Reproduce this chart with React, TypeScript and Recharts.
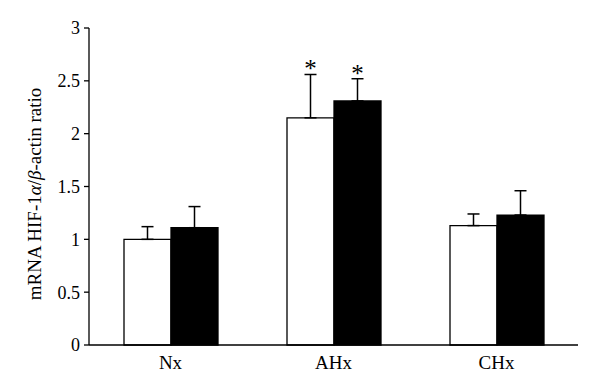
import React from "react";
import { BarChart, Bar, XAxis, YAxis, ErrorBar, LabelList } from "recharts";

const categories = ["Nx", "AHx", "CHx"];
const whiteValues = [1.0, 2.15, 1.13];
const whiteErrors = [0.12, 0.41, 0.11];
const blackValues = [1.11, 2.31, 1.23];
const blackErrors = [0.2, 0.21, 0.23];
const significance = ["", "*", ""];
const yTicks = [0, 0.5, 1, 1.5, 2, 2.5, 3];

const data = categories.map((c, i) => ({
  name: c,
  white: whiteValues[i],
  whiteErr: [0, whiteErrors[i]],
  whiteErrVal: whiteErrors[i],
  black: blackValues[i],
  blackErr: [0, blackErrors[i]],
  blackErrVal: blackErrors[i],
  sig: significance[i],
}));

const FONT = "'Liberation Serif', 'DejaVu Serif', serif";

const makeStar = (errKey: string) => (props: any) => {
  const { x, y, width, height, index } = props;
  const d = data[index];
  if (!d || !d.sig) return null;
  const val = (d as any)[errKey === "whiteErrVal" ? "white" : "black"];
  const pxPerUnit = height / val;
  const topY = y - pxPerUnit * (d as any)[errKey];
  return (
    <text
      x={x + width / 2}
      y={topY + 3}
      textAnchor="middle"
      fontFamily={FONT}
      fontSize={25}
      fill="#000"
    >
      {d.sig}
    </text>
  );
};

const YLabel = () => (
  <text
    transform="translate(34,194) rotate(-90)"
    textAnchor="middle"
    dominantBaseline="central"
    fontFamily={FONT}
    fontSize={19}
    fill="#000"
  >
    mRNA HIF-1<tspan fontStyle="italic">α</tspan>/<tspan fontStyle="italic">β</tspan>-actin ratio
  </text>
);

export default function App() {
  return (
    <div style={{ position: "absolute", left: 0, top: 0, background: "#fff" }}>
      <BarChart
        width={600}
        height={391}
        data={data}
        margin={{ top: 28, right: 22, bottom: 16, left: 0 }}
        barGap={0}
        barSize={47}
      >
        <XAxis
          dataKey="name"
          tickLine={false}
          axisLine={{ stroke: "#000", strokeWidth: 1.3 }}
          tick={{ fill: "#000", fontFamily: FONT, fontSize: 19 }}
          tickMargin={5}
          height={30}
        />
        <YAxis
          width={89}
          domain={[0, 3]}
          ticks={yTicks}
          axisLine={{ stroke: "#000", strokeWidth: 1.3 }}
          tickLine={{ stroke: "#000", strokeWidth: 1.3 }}
          tickSize={5}
          tickMargin={4}
          tick={{ fill: "#000", fontFamily: FONT, fontSize: 18 }}
          label={<YLabel />}
        />
        <Bar dataKey="white" fill="#fff" stroke="#000" strokeWidth={1.3} isAnimationActive={false}>
          <ErrorBar dataKey="whiteErr" width={6} stroke="#000" strokeWidth={1.5} />
          <LabelList dataKey="sig" content={makeStar("whiteErrVal")} />
        </Bar>
        <Bar dataKey="black" fill="#000" stroke="#000" strokeWidth={1.3} isAnimationActive={false}>
          <ErrorBar dataKey="blackErr" width={6} stroke="#000" strokeWidth={1.5} />
          <LabelList dataKey="sig" content={makeStar("blackErrVal")} />
        </Bar>
      </BarChart>
    </div>
  );
}
